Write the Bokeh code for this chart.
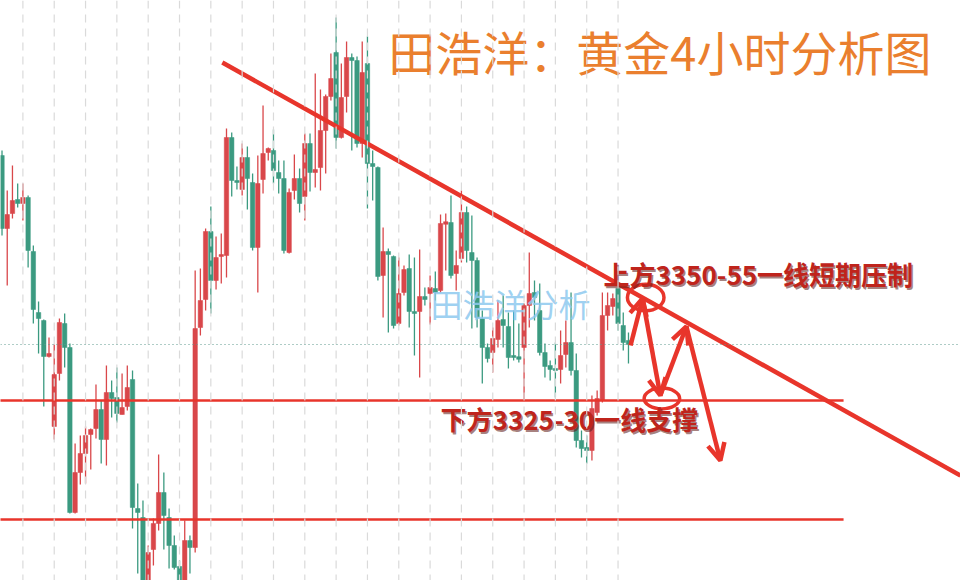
import numpy as np
from bokeh.plotting import figure
from bokeh.models import Range1d, Span, Arrow, OpenHead, ColumnDataSource
from bokeh.core.properties import value
from bokeh.embed import file_html
from bokeh.resources import INLINE

# ---- 4H gold candles (oldest -> newest) ----
opens = [3388.75, 3370.5, 3374.25, 3377.75, 3376.75, 3378.25, 3364.75, 3349.5, 3347.5, 3338.5,
         3321.0, 3334.25, 3346.75, 3340.75, 3299.5, 3309.5, 3314.25, 3319.0, 3320.5, 3325.25,
         3317.75, 3329.5, 3328.25, 3324.0, 3326.0, 3332.75, 3300.5, 3298.25, 3278.75, 3290.25,
         3296.75, 3304.5, 3298.25, 3291.25, 3286.0, 3280.0, 3292.5, 3290.75, 3345.75, 3352.75,
         3369.75, 3357.5, 3363.5, 3363.75, 3393.25, 3382.5, 3380.25, 3388.25, 3382.0, 3365.75,
         3382.75, 3389.5, 3390.0, 3384.5, 3383.0, 3364.5, 3380.0, 3383.0, 3378.5, 3391.75,
         3384.5, 3385.75, 3395.0, 3403.5, 3414.5, 3393.25, 3403.5, 3413.25, 3412.5, 3391.75,
         3411.75, 3386.75, 3385.75, 3358.75, 3364.75, 3363.5, 3346.75, 3354.5, 3360.5, 3349.75,
         3349.75, 3353.5, 3354.25, 3355.5, 3355.0, 3371.75, 3372.0, 3359.25, 3363.0, 3374.5,
         3364.5, 3362.5, 3348.0, 3340.75, 3339.5, 3342.75, 3347.75, 3346.0, 3338.75, 3338.25,
         3340.75, 3351.25, 3354.5, 3350.0, 3339.5, 3336.25, 3335.5, 3335.25, 3339.0, 3342.0,
         3335.0, 3317.5, 3315.75, 3315.0, 3324.5, 3327.5, 3348.75, 3351.0, 3355.5, 3346.25,
         3342.5]
highs = [3390.0, 3380.0, 3386.25, 3381.75, 3381.75, 3378.75, 3366.25, 3352.25, 3347.75, 3343.25,
         3341.5, 3348.0, 3349.25, 3341.75, 3316.75, 3318.75, 3321.0, 3320.5, 3331.5, 3327.5,
         3336.25, 3332.5, 3335.75, 3334.25, 3336.25, 3335.0, 3306.75, 3302.5, 3291.25, 3298.0,
         3314.0, 3309.5, 3300.5, 3293.75, 3287.5, 3297.5, 3293.75, 3360.0, 3360.5, 3370.5,
         3376.0, 3368.5, 3369.25, 3395.5, 3394.5, 3386.0, 3391.75, 3391.0, 3384.25, 3388.75,
         3401.25, 3390.75, 3395.25, 3387.5, 3387.5, 3380.5, 3389.0, 3385.5, 3394.25, 3394.25,
         3409.25, 3405.25, 3404.0, 3414.25, 3423.25, 3411.75, 3417.25, 3414.25, 3413.5, 3417.25,
         3418.5, 3390.0, 3386.0, 3370.75, 3365.5, 3363.75, 3363.25, 3361.25, 3364.0, 3363.25,
         3365.25, 3355.75, 3358.75, 3359.75, 3374.0, 3374.25, 3378.75, 3365.0, 3380.0, 3376.0,
         3373.75, 3363.25, 3350.0, 3341.75, 3345.75, 3352.5, 3353.75, 3349.5, 3350.0, 3346.75,
         3351.75, 3364.5, 3357.5, 3356.75, 3341.75, 3337.5, 3342.0, 3345.0, 3347.5, 3354.5,
         3339.25, 3320.0, 3318.75, 3328.75, 3330.0, 3354.5, 3354.5, 3354.25, 3356.75, 3349.5,
         3344.5]
lows = [3368.75, 3356.25, 3373.0, 3375.75, 3372.5, 3360.75, 3346.75, 3339.25, 3326.0, 3338.25,
        3317.75, 3332.5, 3335.75, 3299.25, 3299.25, 3306.5, 3306.75, 3310.25, 3318.0, 3311.75,
        3311.25, 3323.25, 3322.0, 3324.0, 3325.0, 3295.5, 3284.25, 3276.25, 3277.5, 3286.25,
        3295.0, 3290.25, 3285.5, 3285.25, 3277.5, 3278.0, 3284.25, 3289.5, 3343.75, 3350.0,
        3349.25, 3355.25, 3356.75, 3358.25, 3378.5, 3380.25, 3378.75, 3375.25, 3365.0, 3354.5,
        3379.25, 3387.5, 3381.75, 3379.25, 3364.25, 3364.25, 3377.75, 3374.5, 3372.5, 3379.75,
        3380.75, 3380.0, 3384.25, 3402.5, 3390.5, 3393.0, 3399.5, 3390.0, 3390.75, 3388.25,
        3375.5, 3377.5, 3357.5, 3348.25, 3344.5, 3345.5, 3346.25, 3353.75, 3345.75, 3338.75,
        3333.25, 3351.25, 3346.5, 3352.5, 3354.5, 3360.0, 3358.0, 3355.0, 3362.0, 3362.0,
        3345.5, 3345.75, 3331.75, 3337.0, 3334.5, 3340.75, 3340.75, 3335.5, 3337.5, 3337.0,
        3327.5, 3345.75, 3347.5, 3338.75, 3333.25, 3332.5, 3328.25, 3331.75, 3335.75, 3333.75,
        3315.75, 3313.25, 3311.75, 3312.5, 3323.75, 3327.0, 3345.0, 3348.75, 3345.0, 3340.0,
        3336.75]
closes = [3370.5, 3374.0, 3377.5, 3376.75, 3378.25, 3365.0, 3350.25, 3348.0, 3338.5, 3339.25,
          3334.0, 3347.0, 3340.75, 3299.5, 3309.5, 3314.25, 3318.75, 3320.25, 3325.25, 3317.75,
          3329.5, 3328.0, 3324.25, 3325.75, 3330.75, 3300.75, 3299.5, 3278.75, 3289.5, 3296.75,
          3304.5, 3298.75, 3291.25, 3285.75, 3279.5, 3292.5, 3290.75, 3345.5, 3352.5, 3369.75,
          3357.5, 3363.25, 3364.0, 3393.25, 3382.5, 3382.0, 3388.25, 3383.0, 3365.75, 3381.75,
          3389.25, 3390.5, 3385.0, 3383.0, 3365.0, 3379.5, 3383.0, 3376.75, 3391.75, 3384.5,
          3385.25, 3395.0, 3403.5, 3408.0, 3393.25, 3403.25, 3413.25, 3412.5, 3391.75, 3409.5,
          3386.75, 3386.0, 3358.5, 3364.75, 3364.0, 3346.25, 3354.25, 3360.25, 3349.75, 3349.25,
          3353.5, 3352.75, 3355.75, 3354.5, 3371.75, 3372.0, 3358.75, 3361.25, 3374.5, 3365.0,
          3362.5, 3348.25, 3340.75, 3338.0, 3343.0, 3347.5, 3346.25, 3338.25, 3338.25, 3338.0,
          3351.25, 3354.25, 3353.25, 3339.5, 3336.0, 3335.25, 3335.0, 3338.75, 3342.0, 3335.0,
          3317.5, 3315.5, 3315.0, 3325.5, 3328.0, 3348.75, 3351.25, 3353.0, 3346.75, 3342.0,
          3341.5]

# key levels
last_price = 3341.5
support_levels = [3327.5, 3297.75]
trend_x = [42.2, 183.6]
trend_y = [3412.0, 3308.75]

# projected path: resistance test, pullback to support, retest, breakdown
path_x = [120.4, 122.7, 126.1, 131.1, 137.6]
path_y = [3341.25, 3353.0, 3328.75, 3346.0, 3312.5]
ring_x = [123.3, 126.4]
ring_y = [3353.25, 3328.0]
ring_w = [7.0, 6.8]
ring_h = [6.6, 5.2]

title_text = "田浩洋：黄金4小时分析图"
watermark = "田浩洋分析"
note_upper = "上方3350-55一线短期压制"
note_lower = "下方3325-30一线支撑"

UP = "#d9474a"
DOWN = "#3b9a80"
RED = "#e8352b"

o = np.array(opens); h = np.array(highs); l = np.array(lows); c = np.array(closes)
x = np.arange(len(o))
top = np.maximum(o, c)
bot = np.minimum(o, c)
thin = (top - bot) < 0.4
top = np.where(thin, top + 0.2, top)
bot = np.where(thin, bot - 0.2, bot)
colors = np.where(c >= o, UP, DOWN)

src = ColumnDataSource(dict(x=x, h=h, l=l, top=top, bot=bot, color=colors))

p = figure(width=960, height=580, x_range=Range1d(-0.29, 183.6),
           y_range=Range1d(3282.5, 3427.5), output_backend="svg",
           toolbar_location=None, x_axis_location=None, y_axis_location=None,
           min_border=0, background_fill_color="white", border_fill_color="white")
p.outline_line_color = None
p.grid.visible = False

# dashed vertical grid every 6 bars
for t in range(4, len(o), 6):
    p.add_layout(Span(location=t, dimension="height", line_color="#dadada",
                      line_width=1.2, line_dash="8 6"))

p.segment(x0="x", x1="x", y0="l", y1="h", color="color", line_width=1.3, source=src)
p.vbar(x="x", top="top", bottom="bot", width=0.85, fill_color="color",
       line_color="color", line_width=0.5, source=src)

# current price
p.add_layout(Span(location=last_price, dimension="width", line_color="#5f9a8e",
                  line_width=1.2, line_dash="1 3"))

# support lines and descending trend line
p.segment(x0=[-1] * len(support_levels), x1=[161.2] * len(support_levels),
          y0=support_levels, y1=support_levels, line_color=RED, line_width=2.6)
p.line(trend_x, trend_y, line_color=RED, line_width=4.5)

# projected path
for i in range(len(path_x) - 1):
    p.add_layout(Arrow(end=OpenHead(size=17, line_color=RED, line_width=4.5),
                       x_start=path_x[i], y_start=path_y[i],
                       x_end=path_x[i + 1], y_end=path_y[i + 1],
                       line_color=RED, line_width=4.5))
p.ellipse(x=ring_x, y=ring_y, width=ring_w, height=ring_h, fill_alpha=0,
          line_color=RED, line_width=3.5)

# watermark
p.text(x=[82.1], y=[3352.0], text=[watermark], text_font=value("Noto Sans CJK SC"),
       text_font_size="32px", text_color="#8ec9ef", text_alpha=0.85,
       text_align="left", text_baseline="middle")

# notes
notes_x = [115.2, 84.0]
notes_y = [3359.25, 3323.0]
notes = [note_upper, note_lower]
p.text(x=notes_x, y=notes_y, text=notes, text_font=value("Noto Sans CJK SC"),
       text_font_style="bold", text_font_size="26px", text_color="#5a1410",
       text_alpha=0.55, x_offset=1.5, y_offset=1.5,
       text_align="left", text_baseline="middle")
p.text(x=notes_x, y=notes_y, text=notes, text_font=value("Noto Sans CJK SC"),
       text_font_style="bold", text_font_size="26px", text_color="#bf241c",
       text_align="left", text_baseline="middle")

# title
p.text(x=[74.0], y=[3415.0], text=[title_text], text_font=value("Noto Sans CJK SC"),
       text_font_size="47px", text_color="#ea7f2e",
       text_align="left", text_baseline="middle")

open("out.html", "w").write(file_html(p, INLINE))
